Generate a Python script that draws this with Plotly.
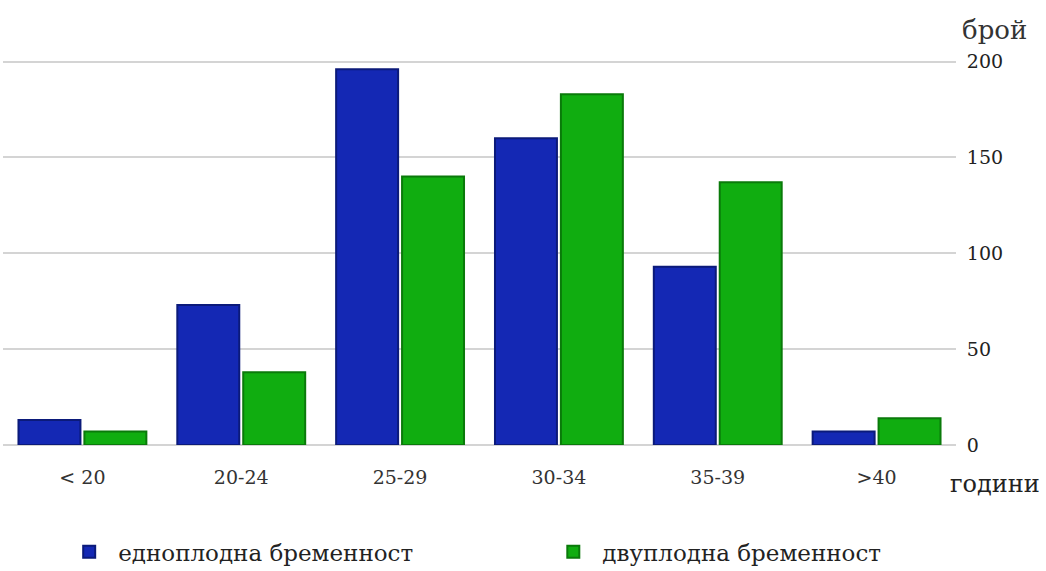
import plotly.graph_objects as go

# Age groups and pregnancy counts
age_groups = ["< 20", "20-24", "25-29", "30-34", "35-39", ">40"]
singleton = [13, 73, 196, 160, 93, 7]
twin = [7, 38, 140, 183, 137, 14]
y_ticks = [0, 50, 100, 150, 200]

series_names = ["едноплодна бременност", "двуплодна бременност"]
face_colors = ["#1428b4", "#10ad10"]
edge_colors = ["#0b1a7a", "#0a7a0a"]
legend_ids = ["legend", "legend2"]

fig = go.Figure()
for name, vals, fc, ec, lg in zip(series_names, [singleton, twin], face_colors, edge_colors, legend_ids):
    fig.add_trace(go.Bar(
        x=age_groups, y=vals, name=name, legend=lg,
        marker=dict(color=fc, line=dict(color=ec, width=2)),
    ))

serif = "DejaVu Serif, Liberation Serif, serif"
legend_font = dict(size=23, family=serif, color="#222222")

fig.update_layout(
    width=1046, height=571,
    margin=dict(l=3, r=90, t=52, b=126, autoexpand=False),
    paper_bgcolor="white", plot_bgcolor="white",
    barmode="group", bargap=0.17, bargroupgap=0.06,
    font=dict(family=serif, color="#333333"),
    showlegend=True,
    legend=dict(x=0.06, xanchor="left", y=-0.272, yanchor="middle",
                itemwidth=48, bgcolor="rgba(0,0,0,0)", font=legend_font),
    legend2=dict(x=0.568, xanchor="left", y=-0.272, yanchor="middle",
                 itemwidth=48, bgcolor="rgba(0,0,0,0)", font=legend_font),
    xaxis=dict(
        showgrid=False, showline=False, zeroline=False,
        ticks="outside", ticklen=15, tickcolor="rgba(0,0,0,0)",
        tickfont=dict(size=19, family=serif, color="#333333"),
    ),
    yaxis=dict(
        side="right", range=[0, 205], tickvals=y_ticks,
        showgrid=True, gridcolor="#d4d4d4", gridwidth=2,
        zeroline=True, zerolinecolor="#d4d4d4", zerolinewidth=2,
        showline=False, ticks="outside", ticklen=6, tickcolor="rgba(0,0,0,0)",
        tickfont=dict(size=19, family=serif, color="#222222"),
    ),
    annotations=[
        dict(text="брой", xref="paper", yref="paper", x=1.04, y=1.056,
             xanchor="center", yanchor="middle", showarrow=False,
             font=dict(size=26, family=serif, color="#333333")),
        dict(text="години", xref="paper", yref="paper", x=1.041, y=-0.098,
             xanchor="center", yanchor="middle", showarrow=False,
             font=dict(size=24, family=serif, color="#222222")),
    ],
)

fig.write_html("out.html")
